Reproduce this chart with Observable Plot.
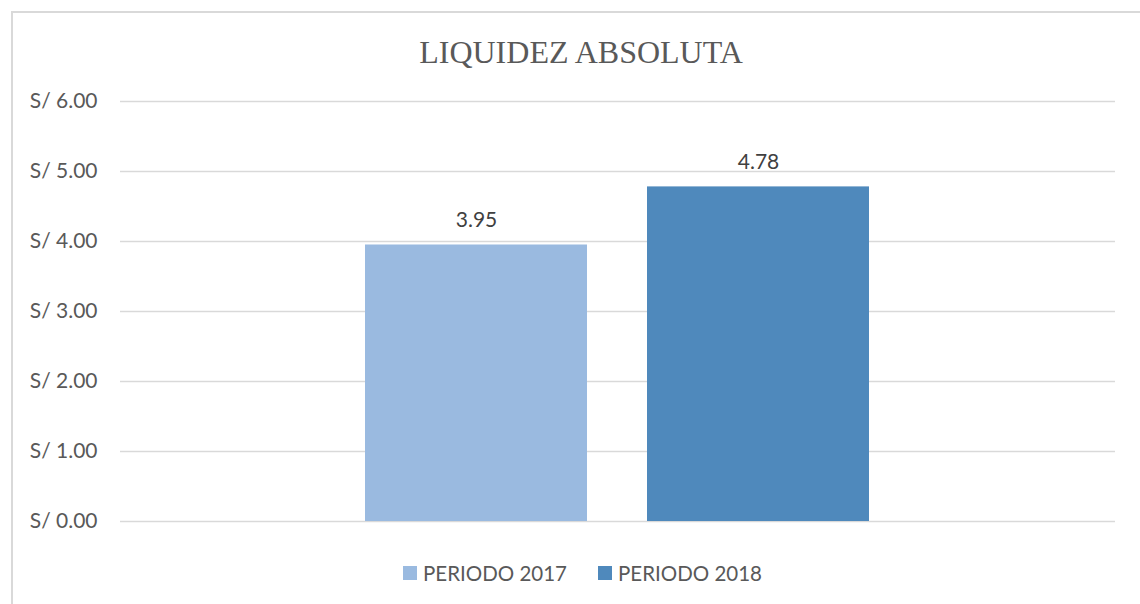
<!DOCTYPE html>
<html><head><meta charset="utf-8">
<script src="https://cdn.jsdelivr.net/npm/d3@7"></script>
<script src="https://cdn.jsdelivr.net/npm/@observablehq/plot@0.6"></script>
<style>
body{margin:0;background:#fff;width:1140px;height:604px;overflow:hidden;position:relative;font-family:Lato,sans-serif;}
#frame{position:absolute;left:11px;top:11px;width:1200px;height:700px;border-left:2px solid #D9D9D9;border-top:2px solid #D9D9D9;}
#title{position:absolute;left:0;width:1162px;top:36px;text-align:center;font-family:"Liberation Serif",serif;font-size:32px;line-height:32px;color:#595959;}
#chart{position:absolute;left:0;top:80px;}
#legend{position:absolute;top:562px;left:0;width:1165px;display:flex;justify-content:center;gap:31px;font-size:20.5px;line-height:22px;color:#595959;}
.item{display:flex;align-items:center;gap:6px;}
.sw{width:14px;height:14px;display:inline-block;}
</style></head>
<body>
<div id="frame"></div>
<div id="title">LIQUIDEZ ABSOLUTA</div>
<div id="chart"></div>
<div id="legend"></div>
<script>
const series = ["PERIODO 2017", "PERIODO 2018"];
const values = [3.95, 4.78];
const colors = ["#9ABAE0", "#4F89BC"];
const yTicks = [0, 1, 2, 3, 4, 5, 6];

const data = series.map((s, i) => ({s, v: values[i]}));

const chart = Plot.plot({
  width: 1140, height: 460,
  marginLeft: 120, marginRight: 25, marginTop: 21, marginBottom: 19,
  x: {domain: series, range: [364, 870], paddingInner: 0.212, paddingOuter: 0, axis: null},
  y: {domain: [0, 6], ticks: yTicks, tickFormat: d => "S/ " + d.toFixed(2), tickSize: 0, tickPadding: 23, label: null},
  color: {domain: series, range: colors},
  style: {fontFamily: "Lato, sans-serif", fontSize: "21px", color: "#595959", background: "transparent", overflow: "visible"},
  marks: [
    Plot.ruleY(yTicks, {stroke: "#D9D9D9", strokeWidth: 1.5}),
    Plot.barY(data, {x: "s", y: "v", fill: "s"}),
    Plot.text(data, {x: "s", y: "v", text: d => d.v.toFixed(2), dy: -25, fill: "#404040", fontSize: 21})
  ]
});
document.getElementById("chart").appendChild(chart);

const legend = document.getElementById("legend");
series.forEach((s, i) => {
  const it = document.createElement("div");
  it.className = "item";
  const sw = document.createElement("span");
  sw.className = "sw";
  sw.style.background = colors[i];
  const t = document.createElement("span");
  t.textContent = s;
  it.appendChild(sw); it.appendChild(t);
  legend.appendChild(it);
});
</script>
</body></html>
